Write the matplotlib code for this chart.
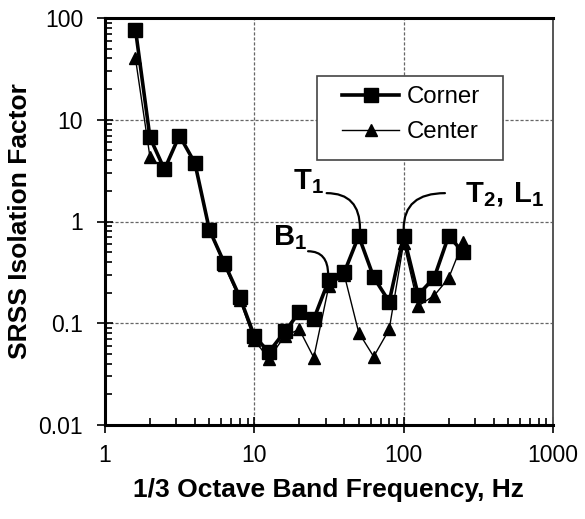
import numpy as np
import matplotlib
matplotlib.use("Agg")
import matplotlib.pyplot as plt
from matplotlib.patches import Rectangle
from matplotlib.ticker import LogLocator, NullFormatter

plt.rcParams["font.family"] = ["Liberation Sans", "DejaVu Sans"]
plt.rcParams["mathtext.fontset"] = "custom"
plt.rcParams["mathtext.rm"] = "Liberation Sans"
plt.rcParams["mathtext.bf"] = "Liberation Sans:bold"

# 1/3 octave band centre frequencies, Hz
freq = [1.6, 2, 2.5, 3.15, 4, 5, 6.3, 8, 10, 12.5, 16, 20, 25, 31.5,
        40, 50, 63, 80, 100, 125, 160, 200, 250]
corner = [77, 6.7, 3.25, 7.0, 3.75, 0.83, 0.39, 0.18, 0.075, 0.052, 0.083,
          0.128, 0.11, 0.265, 0.316, 0.72, 0.283, 0.163, 0.72, 0.19, 0.28,
          0.72, 0.5]
center = [40, 4.3, 3.25, 7.0, 3.75, 0.82, 0.37, 0.17, 0.068, 0.045, 0.075,
          0.087, 0.046, 0.23, 0.30, 0.081, 0.047, 0.087, 0.62, 0.148, 0.187,
          0.277, 0.63]

fig = plt.figure(figsize=(5.85, 5.19), dpi=100)
ax = fig.add_axes([105 / 585, 94 / 519, 448 / 585, 407 / 519])

ax.plot(freq, center, "-", color="black", lw=1.0, marker="^", ms=8,
        label="Center", zorder=3)
ax.plot(freq, corner, "-", color="black", lw=2.6, marker="s", ms=9.5,
        label="Corner", zorder=4)

ax.set_xscale("log")
ax.set_yscale("log")
ax.set_xlim(1, 1000)
ax.set_ylim(0.01, 100)

ax.set_xticks([1, 10, 100, 1000])
ax.set_xticklabels(["1", "10", "100", "1000"])
ax.set_yticks([0.01, 0.1, 1, 10, 100])
ax.set_yticklabels(["0.01", "0.1", "1", "10", "100"])
ax.xaxis.set_minor_locator(LogLocator(base=10, subs=np.arange(2, 10)))
ax.yaxis.set_minor_locator(LogLocator(base=10, subs=np.arange(2, 10)))
ax.xaxis.set_minor_formatter(NullFormatter())
ax.yaxis.set_minor_formatter(NullFormatter())

ax.tick_params(which="major", direction="inout", length=11.5, width=1.2,
               labelsize=16.5)
ax.tick_params(axis="x", which="major", pad=8)
ax.tick_params(axis="y", which="major", pad=10)
ax.tick_params(which="minor", direction="in", length=5, width=1.2)
ax.tick_params(top=False, right=False, which="both")

ax.grid(True, which="major", ls=(0, (2.5, 1.5)), color="#666666", lw=0.9)

for side in ["left", "bottom", "top"]:
    ax.spines[side].set_linewidth(2.2)
ax.spines["right"].set_linewidth(1.4)
ax.spines["right"].set_color("#555555")

ax.set_xlabel("1/3 Octave Band Frequency, Hz", fontsize=19, fontweight="bold")
ax.set_ylabel("SRSS Isolation Factor", fontsize=19, fontweight="bold")
ax.xaxis.set_label_coords(0.499, -0.130)
ax.yaxis.set_label_coords(-0.163, 0.5)

# legend box
box = Rectangle((317 / 585, 1 - 160 / 519), 186 / 585, 84 / 519,
                transform=fig.transFigure, facecolor="white",
                edgecolor="#444444", lw=1.2, zorder=5, clip_on=False)
ax.add_patch(box)
handles, labels = ax.get_legend_handles_labels()
leg = ax.legend(handles[::-1], labels[::-1], loc="center",
                bbox_to_anchor=(0.683, 0.762), fontsize=17.3, frameon=False,
                handlelength=2.37, handletextpad=0.3, labelspacing=0.55,
                borderpad=0.2)
leg.set_zorder(6)

arc = dict(arrowstyle="-", color="black", lw=1.6, shrinkA=0, shrinkB=0,
           connectionstyle="angle3,angleA=0,angleB=90")
ax.annotate("", xy=(51, 0.85), xytext=(30.5, 1.9), arrowprops=arc)
ax.annotate("", xy=(31.2, 0.30), xytext=(22.9, 0.51), arrowprops=arc)
ax.annotate("", xy=(100, 0.85), xytext=(189, 1.9),
            arrowprops=dict(arc, connectionstyle="angle3,angleA=180,angleB=90"))

ax.text(18.2, 2.44, r"$\mathbf{T_1}$", fontsize=21, ha="left", va="center")
ax.text(13.3, 0.70, r"$\mathbf{B_1}$", fontsize=21, ha="left", va="center")
ax.text(258, 1.82, r"$\mathbf{T_2,\,L_1}$", fontsize=21,
        ha="left", va="center")

fig.savefig("out.png", dpi=100)
